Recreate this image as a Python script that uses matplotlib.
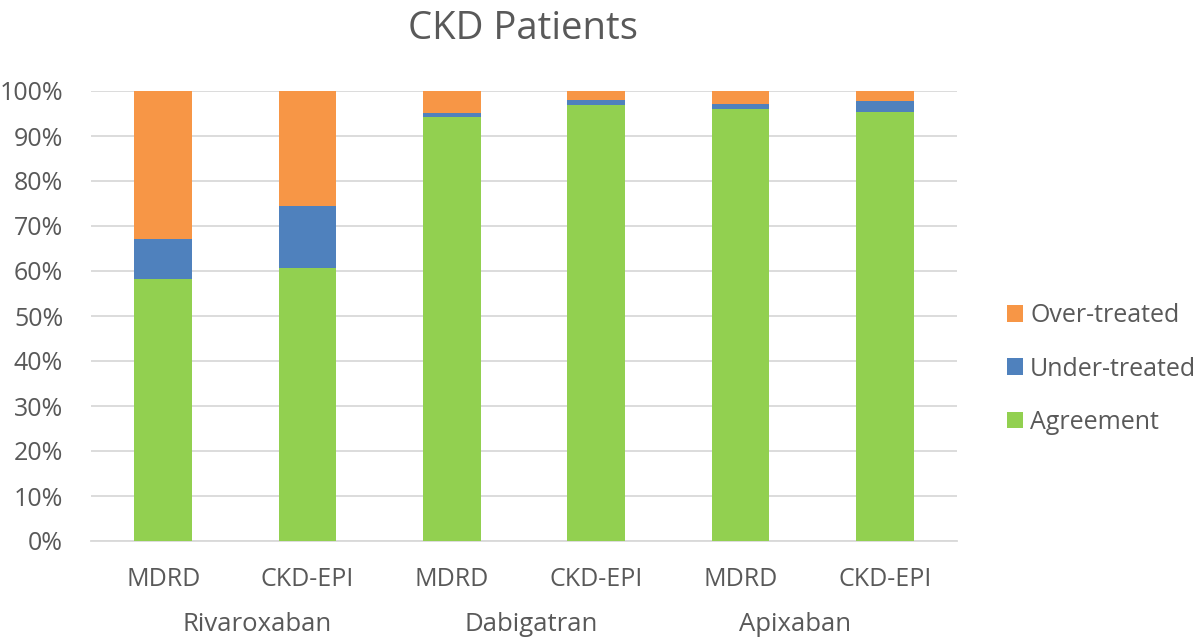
import numpy as np
import matplotlib
matplotlib.use("Agg")
import matplotlib.pyplot as plt

methods = ["MDRD", "CKD-EPI", "MDRD", "CKD-EPI", "MDRD", "CKD-EPI"]
drugs = ["Rivaroxaban", "Dabigatran", "Apixaban"]
agreement = [58.2, 60.6, 94.2, 97.0, 96.1, 95.3]
under_treated = [9.0, 13.9, 1.0, 1.0, 1.1, 2.4]
over_treated = [100 - a - u for a, u in zip(agreement, under_treated)]

plt.rcParams['font.family'] = ['Open Sans', 'DejaVu Sans']
text_col = '#595959'

fig = plt.figure(figsize=(12, 6.44), dpi=100)
ax = fig.add_axes([91/1200, 1 - 541/644, 866/1200, 450/644])

x = np.arange(len(methods))
w = 0.4
a = np.array(agreement) / 100
u = np.array(under_treated) / 100
o = np.array(over_treated) / 100
b1 = ax.bar(x, a, w, color='#92D050', label='Agreement', zorder=3)
b2 = ax.bar(x, u, w, bottom=a, color='#4F81BD', label='Under-treated', zorder=3)
b3 = ax.bar(x, o, w, bottom=a + u, color='#F79646', label='Over-treated', zorder=3)

ax.set_xlim(-0.5, 5.5)
ax.set_ylim(0, 1)
ax.set_yticks(np.arange(0, 1.01, 0.1))
ax.set_yticklabels([f"{int(round(v*100))}%" for v in np.arange(0, 1.01, 0.1)])
ax.yaxis.grid(True, color='#D9D9D9', linewidth=1.3, zorder=0)
for s in ['top', 'right', 'left']:
    ax.spines[s].set_visible(False)
ax.spines['bottom'].set_color('#D9D9D9')
ax.spines['bottom'].set_linewidth(1.3)
ax.tick_params(axis='both', length=0, labelsize=18, labelcolor=text_col)
ax.tick_params(axis='x', pad=18.5)
ax.tick_params(axis='y', pad=20)
ax.set_xticks(x)
ax.set_xticklabels(methods)

# group labels under method labels
group_pos = [0.65, 2.55, 4.375]
for gx, name in zip(group_pos, drugs):
    ax.text(gx, -0.185, name, transform=ax.get_xaxis_transform(), ha='center',
            va='center', fontsize=18.5, color=text_col)

fig.text(0.436, 0.955, "CKD Patients", ha='center', va='center', fontsize=27.5, color=text_col)

leg = fig.legend(handles=[b3, b2, b1], loc='center left', bbox_to_anchor=(1007/1200, 1 - 369/644),
                 frameon=False, fontsize=18, handlelength=0.64, handleheight=0.64,
                 labelspacing=1.13, handletextpad=0.28, borderpad=0, borderaxespad=0)
for t in leg.get_texts():
    t.set_color(text_col)

fig.savefig("out.png", dpi=100)
